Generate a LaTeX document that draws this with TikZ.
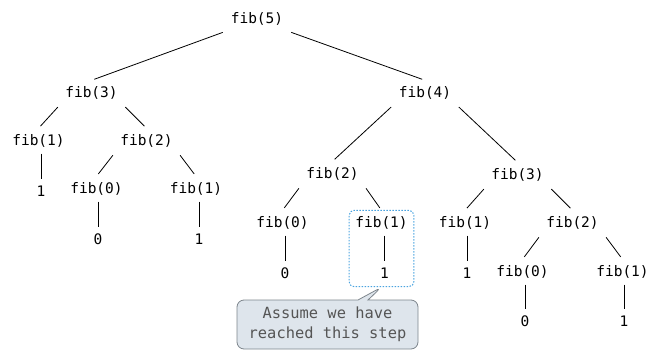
\documentclass[tikz,border=0pt]{standalone}
\usepackage{fontspec}
\setmonofont{DejaVu Sans Mono}
\usetikzlibrary{fit,shapes.callouts}
\definecolor{hiblue}{HTML}{4AA3DF}
\definecolor{notefill}{HTML}{DEE5EC}
\definecolor{noteedge}{HTML}{7D858C}
\definecolor{notetext}{HTML}{555555}
\begin{document}
\begin{tikzpicture}[x=1pt,y=-1pt,
  call/.style={font=\ttfamily\fontsize{14.5}{17}\selectfont,text height=11pt,text depth=2pt,inner xsep=6pt,inner ysep=6pt},
  branch/.style={line width=.8pt,shorten <=2pt,shorten >=3pt},
  stem/.style={line width=.8pt}]
\useasboundingbox (0,0) rectangle (651,351);
% calls
\node[call] (f5) at (257,19) {fib(5)};
\node[call] (f3a) at (91.5,93) {fib(3)};
\node[call] (f4) at (425,93) {fib(4)};
\node[call] (f1a) at (38.5,141) {fib(1)};
\node[call] (f2a) at (146.5,141) {fib(2)};
\node[call] (f0a) at (96.5,189) {fib(0)};
\node[call] (f1b) at (196,189) {fib(1)};
\node[call] (f2b) at (332.5,174) {fib(2)};
\node[call] (f3b) at (517.5,175) {fib(3)};
\node[call] (f0b) at (282.5,223) {fib(0)};
\node[call] (f1c) at (381.5,223) {fib(1)};
\node[call] (f1d) at (465,223) {fib(1)};
\node[call] (f2c) at (572.5,223) {fib(2)};
\node[call] (f0c) at (522.5,272) {fib(0)};
\node[call] (f1e) at (622.5,272) {fib(1)};
% results
\node[call] (v1a) at (41,192) {1};
\node[call] (v0a) at (98,240) {0};
\node[call] (v1b) at (199,240) {1};
\node[call] (v0b) at (285,274) {0};
\node[call] (v1c) at (384.5,274) {1};
\node[call] (v1d) at (467,274) {1};
\node[call] (v0c) at (525,322) {0};
\node[call] (v1e) at (624,322) {1};
% edges
\foreach \p/\c in {f5/f3a,f3a/f1a,f2a/f0a,f4/f2b,f2b/f0b,f3b/f1d,f2c/f0c}
  \draw[branch] (\p.south west) -- (\c.north);
\foreach \p/\c in {f5/f4,f3a/f2a,f2a/f1b,f4/f3b,f2b/f1c,f3b/f2c,f2c/f1e}
  \draw[branch] (\p.south east) -- (\c.north);
\foreach \p/\c in {f1a/v1a,f0a/v0a,f1b/v1b,f0b/v0b,f1c/v1c,f1d/v1d,f0c/v0c,f1e/v1e}
  \draw[stem] (\c.north |- \p.south) -- (\c.north);
% highlighted step
\node[draw=hiblue,line width=1pt,dash pattern=on 1.5pt off 1.5pt,rounded corners=5pt,inner sep=0pt,fit=(f1c)(v1c)] (reached) {};
\node[rectangle callout,callout absolute pointer={(reached.south)},callout pointer width=10pt,
  draw=noteedge,fill=notefill,text=notetext,rounded corners=7pt,line width=.8pt,
  minimum width=181pt,minimum height=49pt,align=center,
  font=\ttfamily\fontsize{15.4}{20}\selectfont] (note) at (327.5,324.5) {Assume we have\\reached this step};
\end{tikzpicture}
\end{document}
